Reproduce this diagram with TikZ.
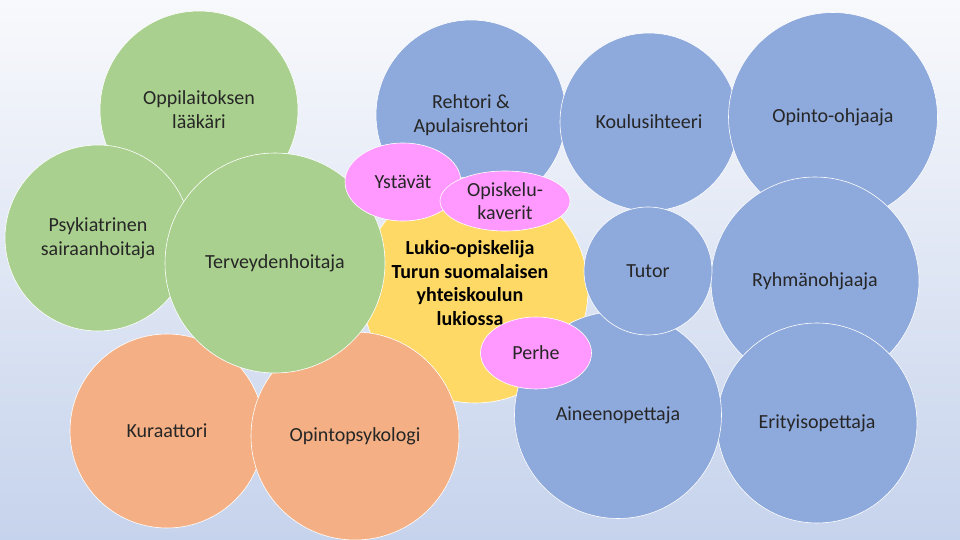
\documentclass[tikz,border=0pt]{standalone}
\usepackage{fontspec}
\setmainfont{Carlito}
\usetikzlibrary{shapes.geometric}

\definecolor{bggtop}{RGB}{248,249,252}
\definecolor{bggmid}{RGB}{186,201,231}
\definecolor{bggbot}{RGB}{198,211,236}
\definecolor{greenfill}{RGB}{169,208,142}
\definecolor{bluefill}{RGB}{142,169,219}
\definecolor{orangefill}{RGB}{244,176,132}
\definecolor{yellowfill}{RGB}{255,217,102}
\definecolor{pinkfill}{RGB}{255,153,255}

\begin{document}
\begin{tikzpicture}[x=1pt, y=-1pt]
\tikzset{
   bubble/.style = {circle, draw = white, line width = 0.6pt, inner sep = 0pt, align = center,
                    font = \fontsize{20}{24}\selectfont, text = black!85},
   green_bubble/.style = {bubble, fill = greenfill},
   blue_bubble/.style = {bubble, fill = bluefill},
   orange_bubble/.style = {bubble, fill = orangefill},
   student/.style = {bubble, fill = yellowfill},
   student_text/.style = {align = center, inner sep = 0pt, font = \fontsize{20}{23.5}\selectfont\bfseries, text = black},
   peer/.style = {ellipse, draw = white, line width = 0.6pt, fill = pinkfill, inner sep = 0pt,
                  align = center, font = \fontsize{20}{23}\selectfont, text = black!85}
}
  % background
  \fill [top color = bggtop, middle color = bggmid, bottom color = bggbot] (0,0) rectangle (960,540);
  \useasboundingbox (0,0) rectangle (960,540);

  % health care
  \node[green_bubble, minimum size = 198pt] (doctor) at (199,110) {Oppilaitoksen\\lääkäri};
  \node[green_bubble, minimum size = 186pt] (psych) at (98,238) {Psykiatrinen\\sairaanhoitaja};

  % school staff
  \node[blue_bubble, minimum size = 190pt] (principal) at (471,115) {Rehtori \&\\Apulaisrehtori};
  \node[blue_bubble, minimum size = 178pt] (secretary) at (649,122) {Koulusihteeri};
  \node[blue_bubble, minimum size = 209pt] (counsellor) at (833,117) {Opinto-ohjaaja};
  \node[blue_bubble, minimum size = 208pt] (groupleader) at (815,281) {Ryhmänohjaaja};
  \node[blue_bubble, minimum size = 200pt] (specialteacher) at (817,423) {Erityisopettaja};

  % the student
  \node[student, minimum size = 226pt] (student) at (475,290) {};
  \node[student_text] (student_label) at (470,283) {Lukio-opiskelija\\Turun suomalaisen\\yhteiskoulun\\lukiossa};

  \node[blue_bubble, minimum size = 207pt] (teacher) at (618,415) {Aineenopettaja};
  \node[blue_bubble, minimum size = 128pt] (tutor) at (648,271) {Tutor};

  % student welfare
  \node[orange_bubble, minimum size = 194pt] (curator) at (167,431) {Kuraattori};
  \node[orange_bubble, minimum size = 208pt] (psychologist) at (355,436) {Opintopsykologi};
  \node[green_bubble, minimum size = 220pt] (nurse) at (275,263) {Terveydenhoitaja};

  % close ones
  \node[peer, minimum width = 116pt, minimum height = 78pt] (friends) at (403,182) {Ystävät};
  \node[peer, minimum width = 130pt, minimum height = 60pt] (classmates) at (505,201) {Opiskelu-\\kaverit};
  \node[peer, minimum width = 111pt, minimum height = 72pt] (family) at (536,353) {Perhe};

\end{tikzpicture}
\end{document}
